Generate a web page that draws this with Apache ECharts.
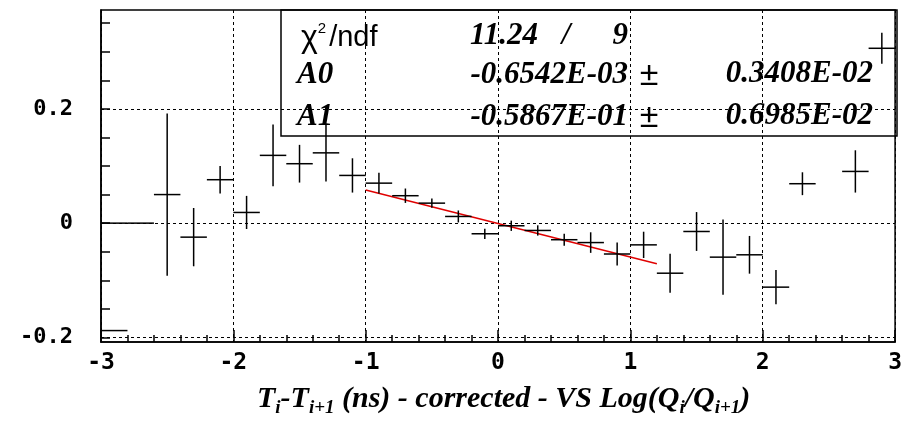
<!DOCTYPE html>
<html>
<head>
<meta charset="utf-8">
<script src="https://cdn.jsdelivr.net/npm/echarts@6/dist/echarts.min.js"></script>
<style>html,body{margin:0;padding:0;background:#fff}#c{width:905px;height:424px}</style>
</head>
<body>
<div id="c"></div>
<script>
// ---- data ----
const binWidth = 0.2;
const binX   = [-2.9,-2.7,-2.5,-2.3,-2.1,-1.9,-1.7,-1.5,-1.3,-1.1,-0.9,-0.7,-0.5,-0.3,-0.1,0.1,0.3,0.5,0.7,0.9,1.1,1.3,1.5,1.7,1.9,2.1,2.3,2.7,2.9];
const binY   = [0,0,0.050,-0.0245,0.076,0.0187,0.1186,0.104,0.123,0.0835,0.070,0.048,0.035,0.0117,-0.0186,-0.0046,-0.0128,-0.029,-0.034,-0.054,-0.038,-0.0876,-0.0146,-0.0595,-0.0554,-0.112,0.069,0.0905,0.306];
const binErr = [0,0,0.142,0.051,0.024,0.029,0.054,0.033,0.05,0.030,0.018,0.0126,0.008,0.0105,0.009,0.009,0.009,0.0105,0.018,0.020,0.023,0.034,0.034,0.066,0.033,0.030,0.020,0.037,0.027];
const extraSegX = [-2.9];
const extraSegY = [-0.188];
const fitX = [-1, 1.2];
const fitY = [0.0580, -0.0711];
const xTicks = [-3,-2,-1,0,1,2,3];
const yLabelValues = [-0.2, 0, 0.2];
const yTickValues = [-0.2,-0.15,-0.1,-0.05,0,0.05,0.1,0.15,0.2,0.25,0.3,0.35];
const yGridValues = [-0.2, 0, 0.2];
const statRows = [
  ['A0', '-0.6542E-03', '0.3408E-02'],
  ['A1', '-0.5867E-01', '0.6985E-02']
];
const chiValue = '11.24', ndfValue = '9';

const chart = echarts.init(document.getElementById('c'), null, {renderer: 'canvas'});

const points = binX.map((x, i) => [x, binY[i], binErr[i]]);
const extra = extraSegX.map((x, i) => [x, extraSegY[i], 0]);

function crossItem(params, api) {
  const x = api.value(0), y = api.value(1), e = api.value(2);
  const pL = api.coord([x - binWidth / 2, y]);
  const pR = api.coord([x + binWidth / 2, y]);
  const st = {stroke: '#000', lineWidth: 1.5};
  const children = [{type: 'line', shape: {x1: pL[0], y1: pL[1], x2: pR[0], y2: pR[1]}, style: st}];
  if (e > 0) {
    const pT = api.coord([x, y + e]);
    const pB = api.coord([x, y - e]);
    children.push({type: 'line', shape: {x1: pT[0], y1: pT[1], x2: pB[0], y2: pB[1]}, style: st});
  }
  return {type: 'group', children};
}

const serif = '"Liberation Serif", "DejaVu Serif", serif';
const sans = '"Liberation Sans", "DejaVu Sans", sans-serif';
const mono = '"DejaVu Sans Mono", "Liberation Mono", monospace';
const numStyle = {fontFamily: serif, fontWeight: 'bold', fontStyle: 'italic', fontSize: 31, fill: '#000'};

const graphics = [
  {type: 'rect', shape: {x: 281, y: 10, width: 616, height: 126}, style: {fill: 'none', stroke: '#000', lineWidth: 1.5}, z: 100},
  {type: 'text', x: 301, y: 38, style: {
    text: '{c|χ}{p|2}{n|/ndf}', textAlign: 'left', textVerticalAlign: 'middle',
    rich: {
      c: {fontFamily: sans, fontSize: 32, lineHeight: 34, color: '#000'},
      p: {fontFamily: sans, fontSize: 15, lineHeight: 15, verticalAlign: 'top', color: '#000', padding: [0, 3, 0, 0]},
      n: {fontFamily: sans, fontSize: 29, lineHeight: 34, color: '#000'}
    }}, z: 100},
  {type: 'text', x: 538, y: 36, style: Object.assign({text: chiValue, textAlign: 'right', textVerticalAlign: 'middle'}, numStyle), z: 100},
  {type: 'text', x: 566, y: 36, style: Object.assign({text: '/', textAlign: 'center', textVerticalAlign: 'middle'}, numStyle), z: 100},
  {type: 'text', x: 628, y: 36, style: Object.assign({text: ndfValue, textAlign: 'right', textVerticalAlign: 'middle'}, numStyle), z: 100}
];
statRows.forEach((r, i) => {
  const y = 75 + i * 42;
  graphics.push({type: 'text', x: 297, y: y, style: Object.assign({text: r[0], textAlign: 'left', textVerticalAlign: 'middle'}, numStyle), z: 100});
  graphics.push({type: 'text', x: 628, y: y, style: Object.assign({text: r[1], textAlign: 'right', textVerticalAlign: 'middle'}, numStyle), z: 100});
  graphics.push({type: 'text', x: 649, y: y + 1, style: {text: '±', fontFamily: sans, fontSize: 34, fill: '#000', textAlign: 'center', textVerticalAlign: 'middle'}, z: 100});
  graphics.push({type: 'text', x: 873, y: y - 1, style: Object.assign({text: r[2], textAlign: 'right', textVerticalAlign: 'middle'}, numStyle), z: 100});
});
// axis title
const tMain = {fontFamily: serif, fontWeight: 'bold', fontStyle: 'italic', fontSize: 30, lineHeight: 38, color: '#2222c8'};
const tSub = {fontFamily: serif, fontWeight: 'bold', fontStyle: 'italic', fontSize: 19, lineHeight: 19, verticalAlign: 'bottom', color: '#2222c8'};
graphics.push({
  type: 'text', x: 257, y: 399,
  style: {
    text: '{m|T}{s|i}{m|-T}{s|i+1}{m| (ns) - corrected - VS Log(Q}{s|i}{m|/Q}{s|i+1}{m|)}',
    textAlign: 'left', textVerticalAlign: 'middle',
    rich: {m: tMain, s: tSub}
  }
});

chart.setOption({
  animation: false,
  backgroundColor: '#fff',
  grid: {left: 101, right: 8, top: 10, bottom: 82, show: true, borderColor: '#000', borderWidth: 1.5, backgroundColor: 'transparent'},
  xAxis: {
    type: 'value', min: -3, max: 3, interval: 1,
    axisLine: {show: true, onZero: false, lineStyle: {color: '#000', width: 1.5}},
    axisTick: {show: true, inside: true, length: 12, lineStyle: {color: '#000', width: 1.5}},
    minorTick: {show: true, splitNumber: 5, length: 7, lineStyle: {color: '#000', width: 1.5}},
    axisLabel: {margin: 10, fontFamily: mono, fontWeight: 'bold', fontSize: 23, color: '#000',
      formatter: v => (xTicks.indexOf(v) >= 0 ? String(v) : '')},
    splitLine: {show: true, lineStyle: {color: '#000', type: [3, 3], width: 1}}
  },
  yAxis: {
    type: 'value', min: -0.208, max: 0.373,
    axisLine: {show: true, onZero: false, lineStyle: {color: '#000', width: 1.5}},
    axisTick: {show: true, inside: true, length: 9, customValues: yTickValues, lineStyle: {color: '#000', width: 1.5}},
    axisLabel: {margin: 28, fontFamily: mono, fontWeight: 'bold', fontSize: 22, color: '#000', customValues: yLabelValues,
      formatter: v => (Math.abs(v) < 1e-9 ? '0' : v.toFixed(1))},
    splitLine: {show: false}
  },
  graphic: graphics,
  series: [
    {
      type: 'line', data: fitX.map((x, i) => [x, fitY[i]]), showSymbol: false, symbol: 'none',
      lineStyle: {color: '#e00000', width: 1.5}, z: 3, silent: true,
      markLine: {
        silent: true, symbol: 'none', label: {show: false},
        lineStyle: {color: '#000', type: [3, 3], width: 1},
        data: yGridValues.map(v => ({yAxis: v})),
        z: 1
      }
    },
    {type: 'custom', renderItem: crossItem, data: points, encode: {x: 0, y: 1}, z: 5, silent: true},
    {type: 'custom', renderItem: crossItem, data: extra, encode: {x: 0, y: 1}, z: 5, silent: true}
  ]
});
</script>
</body>
</html>
